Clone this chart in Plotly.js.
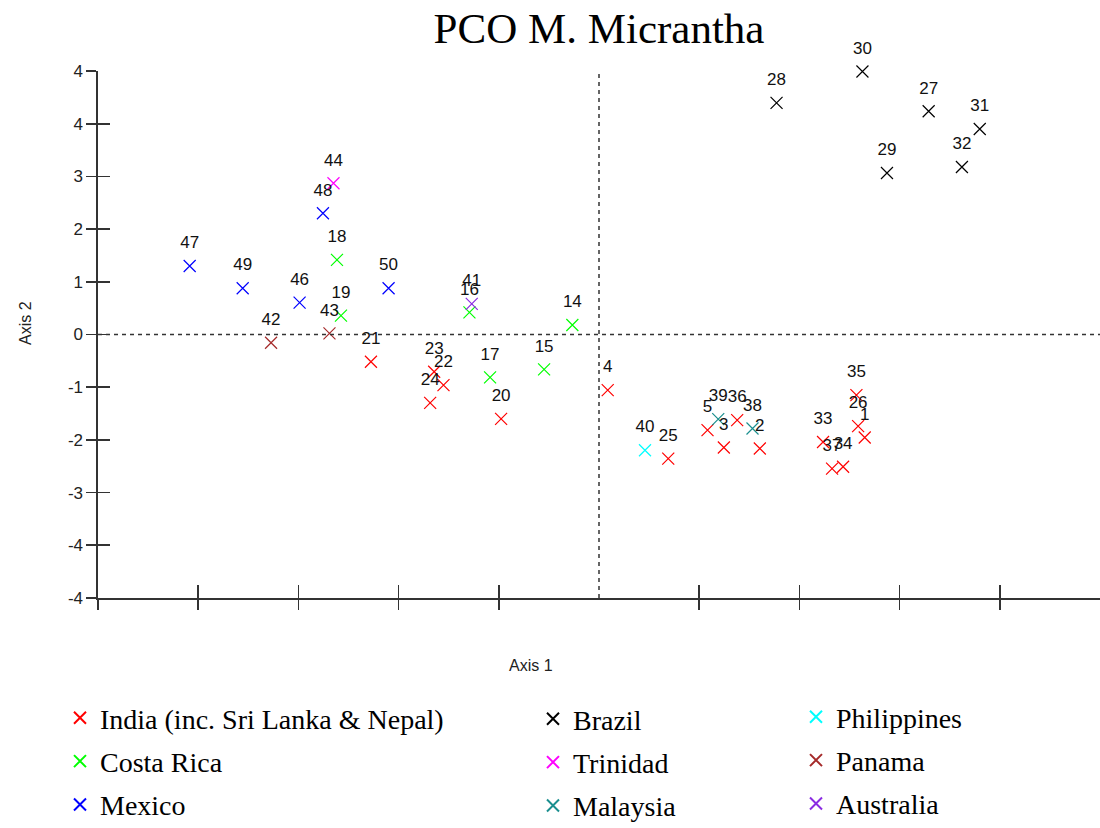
<!DOCTYPE html>
<html>
<head>
<meta charset="utf-8">
<script src="https://cdn.plot.ly/plotly-3.0.1.min.js"></script>
<style>html,body{margin:0;padding:0;background:#fff;}#chart{width:1100px;height:828px;}</style>
</head>
<body>
<div id="chart"></div>
<script>
// ---- data ----
const groupNames = ["India (inc. Sri Lanka & Nepal)", "Costa Rica", "Mexico", "Brazil", "Trinidad", "Malaysia", "Philippines", "Panama", "Australia"];
const groupColors = ["#ff0000", "#00ff00", "#0000ff", "#000000", "#ff00ff", "#1a8f8f", "#00ffff", "#a52a2a", "#8a2be2"];
const groupLegend = ["legend", "legend", "legend", "legend2", "legend2", "legend2", "legend3", "legend3", "legend3"];

const indiaIds = ["1","2","3","4","5","20","21","22","23","24","25","26","33","34","35","36","37"];
const indiaX = [2.652, 1.605, 1.246, 0.087, 1.083, -0.977, -2.276, -1.552, -1.645, -1.685, 0.691, 2.586, 2.236, 2.436, 2.569, 1.379, 2.326];
const indiaY = [-1.955, -2.164, -2.145, -1.055, -1.816, -1.60, -0.517, -0.96, -0.707, -1.296, -2.354, -1.74, -2.04, -2.51, -1.15, -1.625, -2.544];

const costaIds = ["14","15","16","17","18","19"];
const costaX = [-0.266, -0.548, -1.293, -1.087, -2.615, -2.575];
const costaY = [0.18, -0.662, 0.42, -0.814, 1.416, 0.357];

const mexicoIds = ["46","47","48","49","50"];
const mexicoX = [-2.988, -4.085, -2.755, -3.556, -2.10];
const mexicoY = [0.605, 1.30, 2.30, 0.878, 0.878];

const brazilIds = ["27","28","29","30","31","32"];
const brazilX = [3.29, 1.772, 2.874, 2.629, 3.80, 3.622];
const brazilY = [4.236, 4.395, 3.065, 4.99, 3.90, 3.178];

const trinidadIds = ["44"];
const trinidadX = [-2.65];
const trinidadY = [2.87];

const malaysiaIds = ["38","39"];
const malaysiaX = [1.532, 1.19];
const malaysiaY = [-1.784, -1.606];

const philippinesIds = ["40"];
const philippinesX = [0.459];
const philippinesY = [-2.196];

const panamaIds = ["42","43"];
const panamaX = [-3.273, -2.69];
const panamaY = [-0.156, 0.02];

const australiaIds = ["41"];
const australiaX = [-1.27];
const australiaY = [0.58];

const yTickVals = [5, 4, 3, 2, 1, 0, -1, -2, -3, -4, -5];
const yTickText = ["4", "4", "3", "2", "1", "0", "-1", "-2", "-3", "-4", "-4"];
const xTickVals = [-5, -4, -3, -2, -1, 1, 2, 3, 4];

// ---- build traces ----
const groups = [
  [indiaIds, indiaX, indiaY], [costaIds, costaX, costaY], [mexicoIds, mexicoX, mexicoY],
  [brazilIds, brazilX, brazilY], [trinidadIds, trinidadX, trinidadY], [malaysiaIds, malaysiaX, malaysiaY],
  [philippinesIds, philippinesX, philippinesY], [panamaIds, panamaX, panamaY], [australiaIds, australiaX, australiaY]
];

const traces = [];
const allIds = [], allX = [], allY = [];
groups.forEach((g, i) => {
  traces.push({
    type: "scatter", mode: "markers", name: groupNames[i],
    x: g[1], y: g[2], legend: groupLegend[i], legendgroup: "g" + i,
    marker: {symbol: "x-thin", size: 12, line: {color: groupColors[i], width: 1.2}, color: groupColors[i]},
    hoverinfo: "skip", cliponaxis: false
  });
  g[0].forEach((id, k) => { allIds.push(id); allX.push(g[1][k]); allY.push(g[2][k]); });
});
traces.push({
  type: "scatter", mode: "markers+text", x: allX, y: allY, text: allIds,
  textposition: "top center", showlegend: false, hoverinfo: "skip", cliponaxis: false,
  marker: {size: 20, color: "rgba(0,0,0,0)"},
  textfont: {family: "Liberation Sans, Arial, sans-serif", size: 17, color: "#111"}
});
// overlay axes for ticks crossing the axis lines
traces.push({type: "scatter", mode: "markers", x: [], y: [], xaxis: "x2", yaxis: "y2", showlegend: false, hoverinfo: "skip"});

const axColor = "#333";
const legendCommon = {
  orientation: "v", xref: "container", yref: "container", yanchor: "top", xanchor: "left",
  font: {family: "Liberation Serif, Times New Roman, serif", size: 28, color: "#000"},
  bgcolor: "rgba(0,0,0,0)", itemsizing: "constant", tracegroupgap: 4, itemclick: false, itemdoubleclick: false
};

const layout = {
  width: 1100, height: 828,
  margin: {l: 98, r: 0, t: 71, b: 230, autoexpand: false},
  paper_bgcolor: "#fff", plot_bgcolor: "#fff",
  font: {family: "Liberation Sans, Arial, sans-serif", color: "#222"},
  title: {text: "PCO M. Micrantha", x: 0.5, xref: "paper", xanchor: "center", y: 1 - 28/828, yref: "container", yanchor: "middle",
          font: {family: "Liberation Serif, Times New Roman, serif", size: 43, color: "#000"}},
  xaxis: {range: [-5, 5], showgrid: false, zeroline: false, showline: true, linecolor: axColor, linewidth: 1.6, automargin: false,
          ticks: "outside", ticklen: 10, tickwidth: 1.6, tickcolor: axColor, tickvals: xTickVals, showticklabels: false, fixedrange: true},
  yaxis: {range: [-5, 5], showgrid: false, zeroline: false, showline: true, linecolor: axColor, linewidth: 1.6, automargin: false,
          ticks: "outside", ticklen: 10, tickwidth: 1.6, tickcolor: axColor, tickvals: yTickVals, ticktext: yTickText,
          tickfont: {family: "Liberation Sans, Arial, sans-serif", size: 17, color: "#222"}, fixedrange: true},
  xaxis2: {overlaying: "x", anchor: "y2", side: "bottom", range: [-5, 5], showgrid: false, zeroline: false, showline: false, automargin: false,
           ticks: "inside", ticklen: 13, tickwidth: 1.6, tickcolor: axColor, tickvals: xTickVals, showticklabels: false, fixedrange: true},
  yaxis2: {overlaying: "y", anchor: "x2", side: "left", range: [-5, 5], showgrid: false, zeroline: false, showline: false, automargin: false,
           ticks: "inside", ticklen: 12, tickwidth: 1.6, tickcolor: axColor, tickvals: yTickVals, showticklabels: false, fixedrange: true},
  shapes: [
    {type: "line", xref: "paper", yref: "y", x0: 0, x1: 1, y0: 0, y1: 0, line: {color: axColor, width: 1.5, dash: "4px,4px"}},
    {type: "line", xref: "x", yref: "paper", x0: 0, x1: 0, y0: 0, y1: 1, line: {color: axColor, width: 1.5, dash: "4px,4px"}}
  ],
  annotations: [
    {text: "Axis 2", xref: "paper", yref: "paper", x: (25 - 98) / 1002, y: (598 - 323) / 527, xanchor: "center", yanchor: "middle",
     textangle: -90, showarrow: false, font: {family: "Liberation Sans, Arial, sans-serif", size: 16, color: "#222"}},
    {text: "Axis 1", xref: "paper", yref: "paper", x: (531 - 98) / 1002, y: (598 - 665) / 527, xanchor: "center", yanchor: "middle",
     showarrow: false, font: {family: "Liberation Sans, Arial, sans-serif", size: 16, color: "#222"}}
  ],
  legend: Object.assign({}, legendCommon, {x: 60 / 1100, y: 1 - 693 / 828}),
  legend2: Object.assign({}, legendCommon, {x: 533 / 1100, y: 1 - 694 / 828}),
  legend3: Object.assign({}, legendCommon, {x: 796 / 1100, y: 1 - 692 / 828}),
  showlegend: true
};

Plotly.newPlot("chart", traces, layout, {displayModeBar: false, staticPlot: true});
</script>
</body>
</html>
